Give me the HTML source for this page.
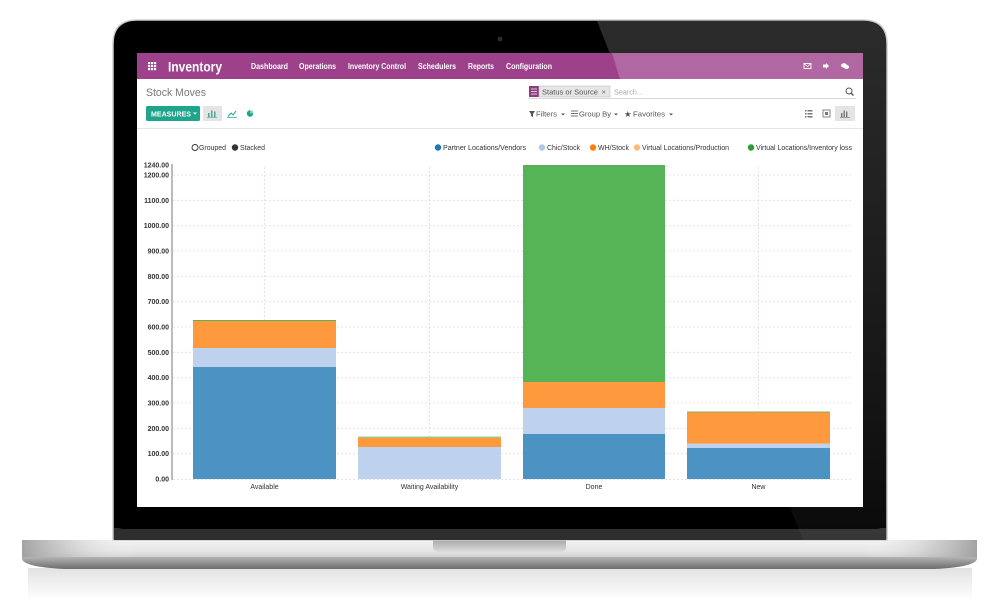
<!DOCTYPE html>
<html><head><meta charset="utf-8">
<style>
html,body{margin:0;padding:0;background:#fff;width:1000px;height:600px;overflow:hidden}
svg{display:block;font-family:"Liberation Sans",Arial,sans-serif}
</style></head>
<body>
<svg width="1000" height="600" viewBox="0 0 1000 600" xmlns="http://www.w3.org/2000/svg">
<defs>
  <linearGradient id="refl" x1="0" y1="0" x2="0" y2="1">
    <stop offset="0" stop-color="#e2e2e2"/>
    <stop offset="1" stop-color="#ffffff"/>
  </linearGradient>
  <linearGradient id="baseTop" x1="0" y1="0" x2="0" y2="1">
    <stop offset="0" stop-color="#f2f2f2"/>
    <stop offset="0.6" stop-color="#e6e6e6"/>
    <stop offset="1" stop-color="#cfcfcf"/>
  </linearGradient>
  <linearGradient id="baseEnds" x1="0" y1="0" x2="1" y2="0">
    <stop offset="0" stop-color="#9a9a9a" stop-opacity="0.9"/>
    <stop offset="0.05" stop-color="#b8b8b8" stop-opacity="0.5"/>
    <stop offset="0.12" stop-color="#ffffff" stop-opacity="0"/>
    <stop offset="0.88" stop-color="#ffffff" stop-opacity="0"/>
    <stop offset="0.95" stop-color="#b8b8b8" stop-opacity="0.5"/>
    <stop offset="1" stop-color="#9a9a9a" stop-opacity="0.9"/>
  </linearGradient>
  <linearGradient id="baseBot" x1="0" y1="0" x2="0" y2="1">
    <stop offset="0" stop-color="#b4b4b4"/>
    <stop offset="1" stop-color="#6c6c6c"/>
  </linearGradient>
  <linearGradient id="notch" x1="0" y1="0" x2="0" y2="1">
    <stop offset="0" stop-color="#a8a8a8"/>
    <stop offset="1" stop-color="#dcdcdc"/>
  </linearGradient>
  <linearGradient id="glare" x1="0" y1="0" x2="0" y2="1">
    <stop offset="0" stop-color="#ffffff" stop-opacity="0.17"/>
    <stop offset="0.75" stop-color="#ffffff" stop-opacity="0.08"/>
    <stop offset="1" stop-color="#ffffff" stop-opacity="0.04"/>
  </linearGradient>
  <clipPath id="lidclip">
    <path d="M114,540 V44 Q114,21 137,21 H863 Q886,21 886,44 V540 Z"/>
  </clipPath>
</defs>

<!-- floor reflection -->
<rect x="28" y="568" width="944" height="32" fill="url(#refl)"/>

<!-- base -->
<rect x="22" y="540" width="955" height="18" fill="url(#baseTop)"/>
<rect x="22" y="540" width="955" height="18" fill="url(#baseEnds)"/>
<path d="M22,557 H977 V559 Q975,567 935,569 H64 Q24,567 22,559 Z" fill="url(#baseBot)"/>
<path d="M433,540 H566 V547 Q566,552 560,552 H439 Q433,552 433,547 Z" fill="url(#notch)"/>

<!-- lid -->
<path d="M113,540 V44 Q113,20 137,20 H863 Q887,20 887,44 V540 Z" fill="#000" stroke="#cdcdcd" stroke-width="1.5"/>
<rect x="114" y="528" width="772" height="12" fill="#2e2e2e"/>
<rect x="114" y="515" width="772" height="14" rx="10" fill="#000"/>
<polygon points="597,21 887,21 887,540 803,540" fill="url(#glare)" clip-path="url(#lidclip)"/>
<circle cx="500" cy="39" r="2.5" fill="#2a2a2a"/>

<!-- screen -->
<rect x="137" y="53" width="726" height="454" fill="#fff"/>

<!-- navbar -->
<rect x="137" y="53" width="726" height="26" fill="#9d418b"/>
<polygon points="612,53 863,53 863,79 620,79" fill="#fff" opacity="0.2"/>
<g fill="#fff">
  <rect x="148" y="62" width="2.2" height="2.2"/><rect x="151" y="62" width="2.2" height="2.2"/><rect x="154" y="62" width="2.2" height="2.2"/>
  <rect x="148" y="65" width="2.2" height="2.2"/><rect x="151" y="65" width="2.2" height="2.2"/><rect x="154" y="65" width="2.2" height="2.2"/>
  <rect x="148" y="68" width="2.2" height="2.2"/><rect x="151" y="68" width="2.2" height="2.2"/><rect x="154" y="68" width="2.2" height="2.2"/>
</g>
<text x="168" y="71.5" font-size="14" font-weight="bold" fill="#fff" textLength="54" lengthAdjust="spacingAndGlyphs">Inventory</text>
<g font-size="8" font-weight="bold" fill="#fff">
  <text x="251" y="69" textLength="37" lengthAdjust="spacingAndGlyphs">Dashboard</text>
  <text x="299" y="69" textLength="37" lengthAdjust="spacingAndGlyphs">Operations</text>
  <text x="348" y="69" textLength="58" lengthAdjust="spacingAndGlyphs">Inventory Control</text>
  <text x="418" y="69" textLength="38" lengthAdjust="spacingAndGlyphs">Schedulers</text>
  <text x="468" y="69" textLength="26" lengthAdjust="spacingAndGlyphs">Reports</text>
  <text x="506" y="69" textLength="46" lengthAdjust="spacingAndGlyphs">Configuration</text>
</g>
<!-- right nav icons -->
<rect x="804" y="63.5" width="7" height="5" fill="none" stroke="#fff" stroke-width="0.9"/>
<path d="M804,63.5 L807.5,66.5 L811,63.5" fill="none" stroke="#fff" stroke-width="0.8"/>
<path d="M823,64.5 H826 V63 L829,66 L826,69 V67.5 H823 Z" fill="#fff"/>
<ellipse cx="844" cy="65.5" rx="3" ry="2.2" fill="#fff"/>
<ellipse cx="846.5" cy="67" rx="2.6" ry="2" fill="#fff"/>

<!-- control panel -->
<text x="146" y="96" font-size="11" fill="#7a7a7a" textLength="60" lengthAdjust="spacingAndGlyphs">Stock Moves</text>
<rect x="529" y="86" width="10" height="11" fill="#8d3c80"/>
<g stroke="#fff" stroke-width="0.7"><line x1="531" y1="89" x2="537" y2="89"/><line x1="531" y1="91.5" x2="537" y2="91.5"/><line x1="531" y1="94" x2="537" y2="94"/></g>
<rect x="539" y="86" width="71" height="11" fill="#e6e6e6" stroke="#bdbdbd" stroke-width="0.6"/>
<text x="542" y="94.5" font-size="7.5" fill="#555" textLength="56" lengthAdjust="spacingAndGlyphs">Status or Source</text>
<text x="601.5" y="94.5" font-size="7.5" fill="#666">×</text>
<text x="614" y="94.5" font-size="7.5" fill="#aaa" textLength="29" lengthAdjust="spacingAndGlyphs">Search...</text>
<line x1="528" y1="98.5" x2="856" y2="98.5" stroke="#ccc" stroke-width="0.8"/>
<circle cx="849" cy="91" r="3" fill="none" stroke="#555" stroke-width="1"/>
<line x1="851" y1="93" x2="853.5" y2="95.5" stroke="#555" stroke-width="1.3"/>

<rect x="146" y="106" width="54" height="15" rx="1.5" fill="#1fa58b"/>
<text x="151" y="116.3" font-size="7" font-weight="bold" fill="#fff" textLength="40" lengthAdjust="spacingAndGlyphs">MEASURES</text>
<path d="M193,112.5 L197,112.5 L195,114.8 Z" fill="#fff"/>
<rect x="203" y="106" width="19" height="15" fill="#e4e4e4"/>
<g fill="#4aa793"><rect x="208" y="113" width="1.5" height="4"/><rect x="211" y="110.5" width="1.5" height="6.5"/><rect x="214" y="111.5" width="1.5" height="5.5"/></g>
<line x1="207" y1="117.3" x2="217" y2="117.3" stroke="#4aa793" stroke-width="0.7"/>
<path d="M228,116.5 L231,113 L233,115 L236,111" fill="none" stroke="#1fa58b" stroke-width="1"/>
<line x1="227" y1="117.5" x2="237" y2="117.5" stroke="#1fa58b" stroke-width="0.7"/>
<circle cx="250" cy="113.5" r="3.2" fill="#1fa58b"/>
<path d="M250,113.5 L250,110.3 A3.2,3.2 0 0 1 253.2,113.5 Z" fill="#7fcfbf"/>

<g font-size="7.5" fill="#555">
  <path d="M529,111 H535 L533,114 V117 L531,116 V114 Z" fill="#555"/>
  <text x="536" y="116.5" textLength="21" lengthAdjust="spacingAndGlyphs">Filters</text>
  <path d="M561,113.5 L565,113.5 L563,115.5 Z"/>
  <g stroke="#555" stroke-width="0.8"><line x1="571" y1="111" x2="578" y2="111"/><line x1="571" y1="113.5" x2="578" y2="113.5"/><line x1="571" y1="116" x2="578" y2="116"/></g>
  <text x="579" y="116.5" textLength="32" lengthAdjust="spacingAndGlyphs">Group By</text>
  <path d="M614,113.5 L618,113.5 L616,115.5 Z"/>
  <text x="624" y="117" font-size="8.5">★</text>
  <text x="633" y="116.5" textLength="32" lengthAdjust="spacingAndGlyphs">Favorites</text>
  <path d="M669,113.5 L673,113.5 L671,115.5 Z"/>
</g>
<g fill="#777">
  <rect x="805" y="110" width="1.5" height="1.5"/><rect x="807.5" y="110" width="5" height="1.5"/>
  <rect x="805" y="113" width="1.5" height="1.5"/><rect x="807.5" y="113" width="5" height="1.5"/>
  <rect x="805" y="116" width="1.5" height="1.5"/><rect x="807.5" y="116" width="5" height="1.5"/>
  <rect x="823" y="110" width="7" height="7" fill="none" stroke="#777" stroke-width="0.9"/>
  <rect x="825" y="112" width="3" height="3"/>
</g>
<rect x="835" y="106" width="20" height="15" fill="#e4e4e4"/>
<g fill="#777"><rect x="841" y="113" width="1.4" height="4"/><rect x="843.5" y="110.5" width="1.4" height="6.5"/><rect x="846" y="111.5" width="1.4" height="5.5"/></g>
<line x1="840" y1="117.3" x2="850" y2="117.3" stroke="#777" stroke-width="0.7"/>

<line x1="137" y1="128.5" x2="863" y2="128.5" stroke="#dcdcdc" stroke-width="0.8"/>

<!-- legend -->
<g font-size="7" fill="#333">
  <circle cx="195" cy="147.5" r="3" fill="#fff" stroke="#333" stroke-width="0.9"/>
  <text x="199" y="150" textLength="27" lengthAdjust="spacingAndGlyphs">Grouped</text>
  <circle cx="235" cy="147.5" r="3.2" fill="#333"/>
  <text x="240" y="150" textLength="25" lengthAdjust="spacingAndGlyphs">Stacked</text>

  <circle cx="438" cy="147.5" r="3.2" fill="#1f77b4"/>
  <text x="443" y="150" textLength="83" lengthAdjust="spacingAndGlyphs">Partner Locations/Vendors</text>
  <circle cx="542" cy="147.5" r="3.2" fill="#aec7e8"/>
  <text x="547" y="150" textLength="33" lengthAdjust="spacingAndGlyphs">Chic/Stock</text>
  <circle cx="593" cy="147.5" r="3.2" fill="#ff7f0e"/>
  <text x="598" y="150" textLength="31" lengthAdjust="spacingAndGlyphs">WH/Stock</text>
  <circle cx="637" cy="147.5" r="3.2" fill="#ffbb78"/>
  <text x="642" y="150" textLength="87" lengthAdjust="spacingAndGlyphs">Virtual Locations/Production</text>
  <circle cx="751" cy="147.5" r="3.2" fill="#2ca02c"/>
  <text x="756" y="150" textLength="96" lengthAdjust="spacingAndGlyphs">Virtual Locations/Inventory loss</text>
</g>

<!-- grid -->
<g stroke="#e8d8e6" stroke-width="0.8" stroke-dasharray="2,2">
  <line x1="173" y1="453.67" x2="852" y2="453.67"/>
  <line x1="173" y1="428.33" x2="852" y2="428.33"/>
  <line x1="173" y1="403" x2="852" y2="403"/>
  <line x1="173" y1="377.67" x2="852" y2="377.67"/>
  <line x1="173" y1="352.33" x2="852" y2="352.33"/>
  <line x1="173" y1="327" x2="852" y2="327"/>
  <line x1="173" y1="301.67" x2="852" y2="301.67"/>
  <line x1="173" y1="276.33" x2="852" y2="276.33"/>
  <line x1="173" y1="251" x2="852" y2="251"/>
  <line x1="173" y1="225.67" x2="852" y2="225.67"/>
  <line x1="173" y1="200.33" x2="852" y2="200.33"/>
  <line x1="173" y1="175" x2="852" y2="175"/>
  <line x1="264.5" y1="167" x2="264.5" y2="479"/>
  <line x1="429.5" y1="167" x2="429.5" y2="479"/>
  <line x1="594" y1="167" x2="594" y2="479"/>
  <line x1="758.5" y1="167" x2="758.5" y2="479"/>
</g>
<line x1="173" y1="479.5" x2="852" y2="479.5" stroke="#e0d6e0" stroke-width="0.8" stroke-dasharray="2,2"/>

<!-- y axis -->
<line x1="172" y1="164" x2="172" y2="480" stroke="#bbb" stroke-width="2"/>
<g font-size="7" font-weight="bold" fill="#333" text-anchor="end">
  <text x="169" y="167.5">1240.00</text>
  <text x="169" y="177.5">1200.00</text>
  <text x="169" y="202.8">1100.00</text>
  <text x="169" y="228.2">1000.00</text>
  <text x="169" y="253.5">900.00</text>
  <text x="169" y="278.8">800.00</text>
  <text x="169" y="304.2">700.00</text>
  <text x="169" y="329.5">600.00</text>
  <text x="169" y="354.8">500.00</text>
  <text x="169" y="380.2">400.00</text>
  <text x="169" y="405.5">300.00</text>
  <text x="169" y="430.8">200.00</text>
  <text x="169" y="456.2">100.00</text>
  <text x="169" y="481.5">0.00</text>
</g>

<!-- bars -->
<!-- Available -->
<rect x="193" y="367" width="143" height="112" fill="#4c92c3"/>
<rect x="193" y="348" width="143" height="19" fill="#bed2ed"/>
<rect x="193" y="321" width="143" height="27" fill="#ff993e"/>
<rect x="193" y="320" width="143" height="1" fill="#56b356"/>
<!-- Waiting -->
<rect x="358" y="447" width="143" height="32" fill="#bed2ed"/>
<rect x="358" y="438" width="143" height="9" fill="#ff993e"/>
<rect x="358" y="436.5" width="143" height="1.5" fill="#a6c47e"/>
<!-- Done -->
<rect x="523" y="434" width="142" height="45" fill="#4c92c3"/>
<rect x="523" y="408" width="142" height="26" fill="#bed2ed"/>
<rect x="523" y="382" width="142" height="26" fill="#ff993e"/>
<rect x="523" y="165" width="142" height="217" fill="#56b356"/>
<!-- New -->
<rect x="687" y="448" width="143" height="31" fill="#4c92c3"/>
<rect x="687" y="443.5" width="143" height="4.5" fill="#bed2ed"/>
<rect x="687" y="412.5" width="143" height="31" fill="#ff993e"/>
<rect x="687" y="411.5" width="143" height="1" fill="#8fae5a"/>

<!-- x labels -->
<g font-size="7" fill="#333" text-anchor="middle">
  <text x="264.5" y="489">Available</text>
  <text x="429.5" y="489">Waiting Availability</text>
  <text x="594" y="489">Done</text>
  <text x="758.5" y="489">New</text>
</g>
</svg>
</body></html>
